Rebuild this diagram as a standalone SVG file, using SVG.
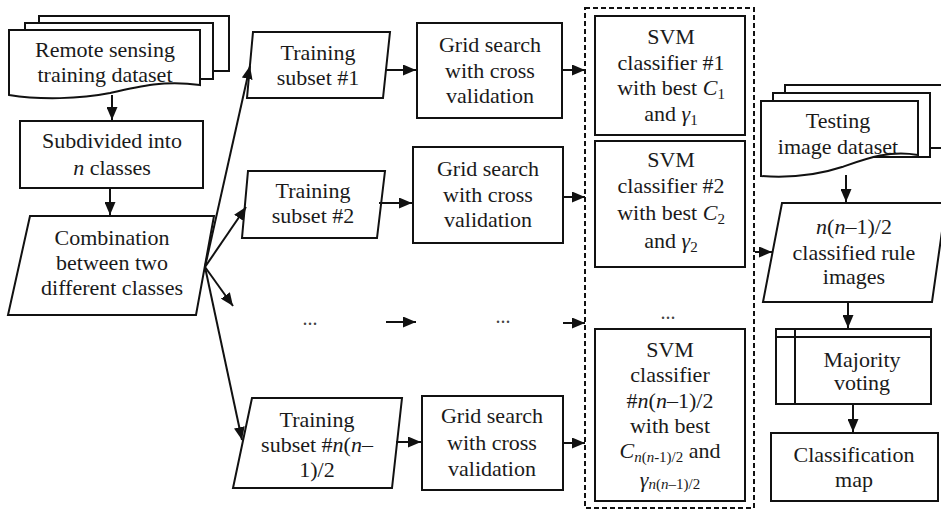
<svg xmlns="http://www.w3.org/2000/svg" width="941" height="509" viewBox="0 0 941 509">
<defs>
<marker id="ah" viewBox="0 0 13 11" refX="13" refY="5.5" markerWidth="13" markerHeight="11" markerUnits="userSpaceOnUse" orient="auto">
<path d="M0,0 L13,5.5 L0,11 Z" fill="#111"/>
</marker>
<style>
.n{fill:#fff;stroke:#111;stroke-width:2}
.t{font-family:'Liberation Serif','DejaVu Serif',serif;font-size:22px;fill:#1a1a1a;text-anchor:middle}
.i{font-style:italic}
.s{font-size:15px}
.d{font-family:'Liberation Serif','DejaVu Serif',serif;font-size:20px;fill:#444;text-anchor:middle}
#conn line{stroke:#111;stroke-width:2;fill:none;marker-end:url(#ah)}
</style>
</defs>
<rect width="941" height="509" fill="#fff"/>

<g id="svm-group">
<rect x="585" y="8" width="169" height="500" fill="none" stroke="#111" stroke-width="2" stroke-dasharray="5 3"/>
</g>

<g id="training-dataset">
<rect class="n" x="39" y="16" width="190" height="55"/>
<rect class="n" x="25" y="23" width="188" height="56"/>
<path class="n" d="M9,30 H200 V85 C165,80 140,86 110,93 C80,99 40,100 9,95 Z"/>
<text class="t" x="105" y="57">Remote sensing</text>
<text class="t" x="105" y="82">training dataset</text>
</g>

<g id="subdivided">
<rect class="n" x="20" y="121" width="183" height="67"/>
<text class="t" x="112" y="148">Subdivided into</text>
<text class="t" x="112" y="175"><tspan class="i">n</tspan> classes</text>
</g>

<g id="combination">
<path class="n" d="M30,216 H214 L196,315 H8 Z"/>
<text class="t" x="112" y="245">Combination</text>
<text class="t" x="112" y="270">between two</text>
<text class="t" x="112" y="295">different classes</text>
</g>

<g id="subset1">
<path class="n" d="M253,32 H390 L383,98 H247 Z"/>
<text class="t" x="318" y="60">Training</text>
<text class="t" x="318" y="85">subset #1</text>
</g>

<g id="subset2">
<path class="n" d="M248,171 H385 L377,238 H242 Z"/>
<text class="t" x="313" y="198">Training</text>
<text class="t" x="313" y="223">subset #2</text>
</g>

<g id="subsetn">
<path class="n" d="M252,398 H402 L392,488 H233 Z"/>
<text class="t" x="317" y="427">Training</text>
<text class="t" x="317" y="452">subset #<tspan class="i">n</tspan>(<tspan class="i">n</tspan>–</text>
<text class="t" x="317" y="477">1)/2</text>
</g>

<g id="grid1">
<rect class="n" x="417" y="23" width="145" height="95"/>
<text class="t" x="490" y="52">Grid search</text>
<text class="t" x="490" y="78">with cross</text>
<text class="t" x="490" y="103">validation</text>
</g>

<g id="grid2">
<rect class="n" x="413" y="147" width="150" height="96"/>
<text class="t" x="488" y="176">Grid search</text>
<text class="t" x="488" y="202">with cross</text>
<text class="t" x="488" y="227">validation</text>
</g>

<g id="gridn">
<rect class="n" x="422" y="396" width="141" height="94"/>
<text class="t" x="492" y="423">Grid search</text>
<text class="t" x="492" y="450">with cross</text>
<text class="t" x="492" y="476">validation</text>
</g>

<g id="svm1">
<rect class="n" x="595" y="16" width="150" height="119"/>
<text class="t" x="671" y="44">SVM</text>
<text class="t" x="671" y="70">classifier #1</text>
<text class="t" x="671" y="95">with best <tspan class="i">C</tspan><tspan class="s" dy="4">1</tspan></text>
<text class="t" x="671" y="121">and <tspan class="i">γ</tspan><tspan class="s" dy="4">1</tspan></text>
</g>

<g id="svm2">
<rect class="n" x="595" y="141" width="150" height="126"/>
<text class="t" x="671" y="167">SVM</text>
<text class="t" x="671" y="193">classifier #2</text>
<text class="t" x="671" y="220">with best <tspan class="i">C</tspan><tspan class="s" dy="4">2</tspan></text>
<text class="t" x="671" y="248">and <tspan class="i">γ</tspan><tspan class="s" dy="4">2</tspan></text>
</g>

<g id="svmn">
<rect class="n" x="595" y="329" width="150" height="172"/>
<text class="t" x="670" y="357">SVM</text>
<text class="t" x="670" y="382">classifier</text>
<text class="t" x="670" y="408">#<tspan class="i">n</tspan>(<tspan class="i">n</tspan>–1)/2</text>
<text class="t" x="670" y="433">with best</text>
<text class="t" x="670" y="458"><tspan class="i">C</tspan><tspan class="s" dy="4"><tspan class="i">n</tspan>(<tspan class="i">n</tspan>-1)/2</tspan><tspan dy="-4"> and</tspan></text>
<text class="t" x="670" y="487"><tspan class="i">γ</tspan><tspan class="s" dy="2"><tspan class="i">n</tspan>(<tspan class="i">n</tspan>–1)/2</tspan></text>
</g>

<g id="dots">
<text class="d" x="310" y="325">...</text>
<text class="d" x="503" y="323">...</text>
<text class="d" x="668" y="319">...</text>
</g>

<g id="testing-dataset">
<rect class="n" x="785" y="85" width="170" height="63"/>
<rect class="n" x="773" y="93" width="157" height="64"/>
<path class="n" d="M761,101 H918 V155 C890,150 868,158 842,167 C815,176 790,178 761,176 Z"/>
<text class="t" x="838" y="128">Testing</text>
<text class="t" x="838" y="154">image dataset</text>
</g>

<g id="rule-images">
<path class="n" d="M782,203 H946 L932,302 H763 Z"/>
<text class="t" x="854" y="234"><tspan class="i">n</tspan>(<tspan class="i">n</tspan>–1)/2</text>
<text class="t" x="854" y="260">classified rule</text>
<text class="t" x="854" y="284">images</text>
</g>

<g id="majority">
<rect class="n" x="776" y="329" width="155" height="75"/>
<line x1="776" y1="337" x2="931" y2="337" stroke="#111" stroke-width="2"/>
<line x1="795" y1="329" x2="795" y2="404" stroke="#111" stroke-width="2"/>
<text class="t" x="862" y="367">Majority</text>
<text class="t" x="862" y="390">voting</text>
</g>

<g id="classification-map">
<rect class="n" x="771" y="433" width="167" height="68"/>
<text class="t" x="854" y="462">Classification</text>
<text class="t" x="854" y="487">map</text>
</g>

<g id="conn">
<line x1="112" y1="95" x2="112" y2="120"/>
<line x1="110" y1="188" x2="110" y2="215"/>
<line x1="205" y1="267" x2="250" y2="66"/>
<line x1="205" y1="267" x2="246" y2="207"/>
<line x1="205" y1="267" x2="233" y2="306"/>
<line x1="205" y1="267" x2="242" y2="440"/>
<line x1="386" y1="70" x2="416" y2="70"/>
<line x1="379" y1="203" x2="412" y2="203"/>
<line x1="396" y1="442" x2="421" y2="442"/>
<line x1="386" y1="322" x2="416" y2="322"/>
<line x1="562" y1="70" x2="585" y2="70"/>
<line x1="563" y1="197" x2="585" y2="197"/>
<line x1="563" y1="323" x2="585" y2="323"/>
<line x1="563" y1="443" x2="585" y2="443"/>
<line x1="755" y1="252" x2="772" y2="252"/>
<line x1="846" y1="175" x2="846" y2="202"/>
<line x1="848" y1="302" x2="848" y2="328"/>
<line x1="853" y1="404" x2="853" y2="432"/>
</g>
</svg>
